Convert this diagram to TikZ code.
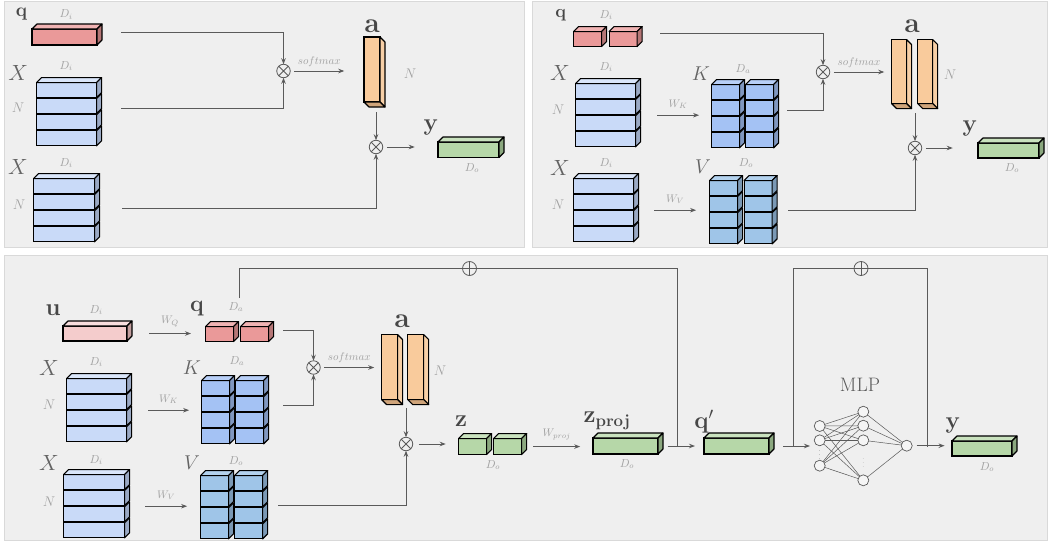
\RequirePackage{fix-cm}
\documentclass[tikz,border=0pt]{standalone}
\usepackage{amsmath, amssymb}
\usepackage{tikz}
\usetikzlibrary{arrows.meta, positioning, calc, matrix}

\definecolor{panelfill}{HTML}{EFEFEF}
\definecolor{paneledge}{HTML}{D9D9D9}
\definecolor{wiregray}{HTML}{5A5A5A}
\definecolor{faint}{HTML}{A0A0A0}
\definecolor{ink}{HTML}{474747}
\definecolor{qfront}{HTML}{EA9999}
\definecolor{qtop}{HTML}{F0B3B3}
\definecolor{qside}{HTML}{B57676}
\definecolor{ufront}{HTML}{F4CCCC}
\definecolor{utop}{HTML}{F8DEDE}
\definecolor{uside}{HTML}{C29E9E}
\definecolor{xfront}{HTML}{C9DAF8}
\definecolor{xtop}{HTML}{DAE6FA}
\definecolor{xside}{HTML}{9AA9C4}
\definecolor{kfront}{HTML}{A4C2F4}
\definecolor{ktop}{HTML}{B8CFF7}
\definecolor{kside}{HTML}{8097C0}
\definecolor{vfront}{HTML}{9FC5E8}
\definecolor{vtop}{HTML}{B3D2EE}
\definecolor{vside}{HTML}{7B99B5}
\definecolor{afront}{HTML}{F9CB9C}
\definecolor{aside}{HTML}{F7CFA6}
\definecolor{abot}{HTML}{CFA47A}
\definecolor{gfront}{HTML}{B6D7A8}
\definecolor{gtop}{HTML}{C9E2BE}
\definecolor{gside}{HTML}{8BA87F}

% top and right faces of a box seen from above
\newcommand{\upfaces}[3]{%
  \filldraw[fill=#2, boxline] (#1.north west) -- ++(5,-5) -- ([shift={(5,-5)}]#1.north east) -- (#1.north east) -- cycle;
  \filldraw[fill=#3, boxline] (#1.north east) -- ++(5,-5) -- ([shift={(5,-5)}]#1.south east) -- (#1.south east) -- cycle;}
% right face only (lower rows of a stack)
\newcommand{\sidefaces}[2]{%
  \filldraw[fill=#2, boxline] (#1.north east) -- ++(5,-5) -- ([shift={(5,-5)}]#1.south east) -- (#1.south east) -- cycle;}
% right and bottom faces of a box seen from below
\newcommand{\downfaces}[3]{%
  \filldraw[fill=#2, boxline] (#1.north east) -- ++(5,5) -- ([shift={(5,5)}]#1.south east) -- (#1.south east) -- cycle;
  \filldraw[fill=#3, boxline] (#1.south west) -- ++(5,5) -- ([shift={(5,5)}]#1.south east) -- (#1.south east) -- cycle;}

\begin{document}
\begin{tikzpicture}[x=1pt, y=-1pt,
    panel/.style={fill=panelfill, draw=paneledge, line width=1pt},
    blk/.style={draw=black, line width=1.1pt, inner sep=0pt, outer sep=0pt},
    boxline/.style={draw=black, line width=1.1pt, line join=round},
    stack/.style={matrix of nodes, nodes in empty cells, anchor=north west,
        inner sep=0pt, outer sep=0pt, row sep=0pt, column sep=5pt, ampersand replacement=\&},
    wire/.style={draw=wiregray, line width=0.9pt},
    arr/.style={wire, -{Stealth[length=6pt, width=4.5pt]}},
    timesop/.style={circle, draw=wiregray, fill=panelfill, line width=0.8pt, minimum size=13.5pt,
        inner sep=0pt, outer sep=0pt,
        path picture={\draw[wiregray, line width=0.8pt]
            (path picture bounding box.north west) -- (path picture bounding box.south east)
            (path picture bounding box.north east) -- (path picture bounding box.south west);}},
    plusop/.style={circle, draw=wiregray, fill=panelfill, line width=0.8pt, minimum size=14pt,
        inner sep=0pt, outer sep=0pt,
        path picture={\draw[wiregray, line width=0.8pt]
            (path picture bounding box.north) -- (path picture bounding box.south)
            (path picture bounding box.west) -- (path picture bounding box.east);}},
    neuron/.style={circle, draw=wiregray, fill=panelfill!60!white, line width=0.7pt, minimum size=11pt, inner sep=0pt},
    edge/.style={draw=wiregray, line width=0.5pt},
    vec/.style={text=ink, inner sep=0pt, font=\fontsize{24}{26}\selectfont},
    mat/.style={text=ink!85, inner sep=0pt, font=\fontsize{22}{24}\selectfont},
    dimlbl/.style={text=faint, inner sep=0pt, font=\fontsize{11.5}{12}\selectfont},
    nlbl/.style={text=faint, inner sep=0pt, font=\fontsize{14}{15}\selectfont},
    oplbl/.style={text=faint, inner sep=0pt, font=\fontsize{11}{12}\selectfont}]

    \useasboundingbox (0,0) rectangle (1048,541);

    % three grey panels
    \draw[panel] (4,1) rectangle (524,247);
    \draw[panel] (532,1) rectangle (1047.5,247);
    \draw[panel] (4,255) rectangle (1047.5,540.5);

    %%% top left: attention without projections
    \node[blk, fill=qfront, minimum width=65pt, minimum height=16pt, anchor=north west] (q1) at (32,29) {};
    \upfaces{q1}{qtop}{qside}
    \matrix[stack, nodes={blk, fill=xfront, minimum width=60pt, minimum height=15pt}] (X1) at (36,82) {\\ \\ \\ \\};
    \upfaces{X1-1-1}{xtop}{xside}
    \foreach \r in {2,3,4} {\sidefaces{X1-\r-1}{xside}}
    \matrix[stack, nodes={blk, fill=xfront, minimum width=61pt, minimum height=15pt}] (X2) at (33,178) {\\ \\ \\ \\};
    \upfaces{X2-1-1}{xtop}{xside}
    \foreach \r in {2,3,4} {\sidefaces{X2-\r-1}{xside}}
    \node[blk, fill=afront, minimum width=16pt, minimum height=65pt, anchor=north west] (a1) at (364,37) {};
    \downfaces{a1}{aside}{abot}
    \node[blk, fill=gfront, minimum width=61pt, minimum height=15.5pt, anchor=north west] (y1) at (438,142) {};
    \upfaces{y1}{gtop}{gside}

    \node[vec, font=\fontsize{19}{21}\selectfont] (lq1) at (21.5,14.5) {$\mathbf{q}$};
    \node[dimlbl] (ld1) at (66,14.5) {$D_i$};
    \node[mat] (lX1) at (18.3,72.5) {$X$};
    \node[dimlbl] (ld2) at (66,66) {$D_i$};
    \node[nlbl] (lN1) at (18,108) {$N$};
    \node[mat] (lX2) at (18,167) {$X$};
    \node[dimlbl] (ld3) at (66,163) {$D_i$};
    \node[nlbl] (lN2) at (19,205) {$N$};
    \node[vec, font=\fontsize{28}{30}\selectfont] (la1) at (372,26) {$\mathbf{a}$};
    \node[nlbl] (lN3) at (410,74) {$N$};
    \node[vec] (ly1) at (431,127) {$\mathbf{y}$};
    \node[dimlbl] (ldo1) at (472,168) {$D_o$};

    \node[timesop] (m1) at (283.5,71) {};
    \node[timesop] (m2) at (376,147) {};
    \coordinate (c1) at (121,32);
    \coordinate (c2) at (121,108);
    \coordinate (c3) at (122,208);
    \coordinate (c4) at (376,112);
    \draw[arr] (c1) -| (m1.north);
    \draw[arr] (c2) -| (m1.south);
    \draw[arr] ([xshift=4pt]m1.east) -- +(50,0) node[oplbl, midway, above=4pt] (sm1) {$softmax$};
    \draw[arr] (c4) -- (m2.north);
    \draw[arr] (c3) -| (m2.south);
    \draw[arr] ([xshift=4pt]m2.east) -- +(28,0);

    %%% top right: attention with key and value projections
    \matrix[stack, column sep=6.5pt, nodes={blk, fill=qfront, minimum width=28pt, minimum height=15pt}] (q2) at (573,31) {\& \\};
    \foreach \c in {1,2} {\upfaces{q2-1-\c}{qtop}{qside}}
    \matrix[stack, nodes={blk, fill=xfront, minimum width=60pt, minimum height=15pt}] (X3) at (575,83) {\\ \\ \\ \\};
    \upfaces{X3-1-1}{xtop}{xside}
    \foreach \r in {2,3,4} {\sidefaces{X3-\r-1}{xside}}
    \matrix[stack, nodes={blk, fill=xfront, minimum width=60pt, minimum height=15pt}] (X4) at (573,178) {\\ \\ \\ \\};
    \upfaces{X4-1-1}{xtop}{xside}
    \foreach \r in {2,3,4} {\sidefaces{X4-\r-1}{xside}}
    \matrix[stack, nodes={blk, fill=kfront, minimum width=28pt, minimum height=15pt}] (K1) at (711,84) {\& \\ \& \\ \& \\ \& \\};
    \foreach \c in {1,2} {\upfaces{K1-1-\c}{ktop}{kside} \foreach \r in {2,3,4} {\sidefaces{K1-\r-\c}{kside}}}
    \matrix[stack, column sep=5.5pt, nodes={blk, fill=vfront, minimum width=28pt, minimum height=15pt}] (V1) at (709,180) {\& \\ \& \\ \& \\ \& \\};
    \foreach \c in {1,2} {\upfaces{V1-1-\c}{vtop}{vside} \foreach \r in {2,3,4} {\sidefaces{V1-\r-\c}{vside}}}
    \matrix[stack, column sep=10pt, nodes={blk, fill=afront, minimum width=15pt, minimum height=64pt}] (a2) at (891,39) {\& \\};
    \foreach \c in {1,2} {\downfaces{a2-1-\c}{aside}{abot}}
    \node[blk, fill=gfront, minimum width=61pt, minimum height=15pt, anchor=north west] (y2) at (978,143) {};
    \upfaces{y2}{gtop}{gside}

    \node[vec, font=\fontsize{18}{20}\selectfont] (lq2) at (560.7,15) {$\mathbf{q}$};
    \node[dimlbl] (ld4) at (606,15) {$D_i$};
    \node[mat] (lX3) at (560,73) {$X$};
    \node[dimlbl] (ld5) at (606,67) {$D_i$};
    \node[nlbl] (lN4) at (558,110) {$N$};
    \node[mat, font=\fontsize{20}{22}\selectfont] (lK1) at (701,74) {$K$};
    \node[dimlbl] (lda1) at (743,69) {$D_a$};
    \node[mat] (lX4) at (560,168) {$X$};
    \node[dimlbl] (ld6) at (606,163) {$D_i$};
    \node[nlbl] (lN5) at (558,205) {$N$};
    \node[mat, font=\fontsize{20}{22}\selectfont] (lV1) at (703,167) {$V$};
    \node[dimlbl] (ldo2) at (746,163) {$D_o$};
    \node[vec, font=\fontsize{28}{30}\selectfont] (la2) at (912,26) {$\mathbf{a}$};
    \node[nlbl] (lN6) at (950,75) {$N$};
    \node[vec] (ly2) at (970,128) {$\mathbf{y}$};
    \node[dimlbl] (ldo3) at (1012,168) {$D_o$};

    \node[timesop] (m3) at (823,72) {};
    \node[timesop] (m4) at (915,148) {};
    \coordinate (c5) at (660,33);
    \coordinate (c6) at (787,110);
    \coordinate (c7) at (788,210);
    \coordinate (c8) at (915,113);
    \draw[arr] ([xshift=21pt]X3.east) -- +(42,0) node[oplbl, midway, above=6pt] (wk1) {$W_K$};
    \draw[arr] ([xshift=20pt]X4.east) -- +(42,0) node[oplbl, midway, above=6pt] (wv1) {$W_V$};
    \draw[arr] (c5) -| (m3.north);
    \draw[arr] (c6) -| (m3.south);
    \draw[arr] ([xshift=4pt]m3.east) -- +(50.5,0) node[oplbl, midway, above=4pt] (sm2) {$softmax$};
    \draw[arr] (c8) -- (m4.north);
    \draw[arr] (c7) -| (m4.south);
    \draw[arr] ([xshift=4pt]m4.east) -- +(27,0);

    %%% bottom: full block with query projection, residuals and MLP
    \node[blk, fill=ufront, minimum width=64pt, minimum height=15pt, anchor=north west] (u1) at (63,326) {};
    \upfaces{u1}{utop}{uside}
    \matrix[stack, column sep=6pt, nodes={blk, fill=qfront, minimum width=28pt, minimum height=15pt}] (q3) at (205,326) {\& \\};
    \foreach \c in {1,2} {\upfaces{q3-1-\c}{qtop}{qside}}
    \matrix[stack, nodes={blk, fill=xfront, minimum width=60pt, minimum height=15pt}] (X5) at (66,378) {\\ \\ \\ \\};
    \upfaces{X5-1-1}{xtop}{xside}
    \foreach \r in {2,3,4} {\sidefaces{X5-\r-1}{xside}}
    \matrix[stack, nodes={blk, fill=xfront, minimum width=61pt, minimum height=15pt}] (X6) at (63,474) {\\ \\ \\ \\};
    \upfaces{X6-1-1}{xtop}{xside}
    \foreach \r in {2,3,4} {\sidefaces{X6-\r-1}{xside}}
    \matrix[stack, nodes={blk, fill=kfront, minimum width=28pt, minimum height=15pt}] (K2) at (201,380) {\& \\ \& \\ \& \\ \& \\};
    \foreach \c in {1,2} {\upfaces{K2-1-\c}{ktop}{kside} \foreach \r in {2,3,4} {\sidefaces{K2-\r-\c}{kside}}}
    \matrix[stack, nodes={blk, fill=vfront, minimum width=28pt, minimum height=15pt}] (V2) at (200,475) {\& \\ \& \\ \& \\ \& \\};
    \foreach \c in {1,2} {\upfaces{V2-1-\c}{vtop}{vside} \foreach \r in {2,3,4} {\sidefaces{V2-\r-\c}{vside}}}
    \matrix[stack, column sep=9pt, nodes={blk, fill=afront, minimum width=16pt, minimum height=65pt}] (a3) at (381,334) {\& \\};
    \foreach \c in {1,2} {\downfaces{a3-1-\c}{aside}{abot}}
    \matrix[stack, column sep=6pt, nodes={blk, fill=gfront, minimum width=28pt, minimum height=16pt}] (z1) at (458,438) {\& \\};
    \foreach \c in {1,2} {\upfaces{z1-1-\c}{gtop}{gside}}
    \node[blk, fill=gfront, minimum width=65pt, minimum height=16pt, anchor=north west] (zp) at (593,438) {};
    \upfaces{zp}{gtop}{gside}
    \node[blk, fill=gfront, minimum width=65pt, minimum height=16pt, anchor=north west] (qp) at (704,438) {};
    \upfaces{qp}{gtop}{gside}
    \node[blk, fill=gfront, minimum width=60pt, minimum height=15pt, anchor=north west] (y3) at (952,441) {};
    \upfaces{y3}{gtop}{gside}

    \node[vec] (lu) at (53,310) {$\mathbf{u}$};
    \node[dimlbl] (ld7) at (96,310) {$D_i$};
    \node[vec, font=\fontsize{23}{25}\selectfont] (lq3) at (197,309) {$\mathbf{q}$};
    \node[dimlbl] (lda2) at (236,307) {$D_a$};
    \node[mat] (lX5) at (49,368) {$X$};
    \node[dimlbl] (ld8) at (96,362) {$D_i$};
    \node[nlbl] (lN7) at (49,405) {$N$};
    \node[mat, font=\fontsize{20}{22}\selectfont] (lK2) at (192,368) {$K$};
    \node[dimlbl] (lda3) at (237,361) {$D_a$};
    \node[mat] (lX6) at (49,463) {$X$};
    \node[dimlbl] (ld9) at (96,460) {$D_i$};
    \node[nlbl] (lN8) at (49,502) {$N$};
    \node[mat, font=\fontsize{20}{22}\selectfont] (lV2) at (192,463) {$V$};
    \node[dimlbl] (ldo4) at (236,461) {$D_o$};
    \node[vec, font=\fontsize{28}{30}\selectfont] (la3) at (402,321) {$\mathbf{a}$};
    \node[nlbl] (lN9) at (440,371) {$N$};
    \node[vec] (lz) at (461,421) {$\mathbf{z}$};
    \node[dimlbl] (ldo5) at (493,465) {$D_o$};
    \node[vec] (lzp) at (607,421) {$\mathbf{z}_{\mathbf{proj}}$};
    \node[dimlbl] (ldo6) at (627,464) {$D_o$};
    \node[vec] (lqp) at (704,422) {$\mathbf{q}'$};
    \node[text=ink!90, font=\fontsize{19.5}{21}\selectfont, inner sep=0pt] (lmlp) at (860,385) {MLP};
    \node[vec] (ly3) at (953,425.5) {$\mathbf{y}$};
    \node[dimlbl] (ldo7) at (987,467) {$D_o$};

    \node[timesop] (m5) at (313.5,367.5) {};
    \node[timesop] (m6) at (406,444) {};
    \node[plusop] (p1) at (469.5,268.5) {};
    \node[plusop] (p2) at (861,268.5) {};

    % small MLP
    \coordinate (i1) at (819.7,426);
    \coordinate (i2) at (819.7,440.3);
    \coordinate (i3) at (819.7,465.7);
    \coordinate (h1) at (863.3,411.7);
    \coordinate (h2) at (863.3,425.7);
    \coordinate (h3) at (863.3,440.3);
    \coordinate (h4) at (863.3,480.3);
    \foreach \i in {i1,i2,i3} {\foreach \h in {h1,h2,h3,h4} {\draw[edge] (\i) -- (\h);}}
    \foreach \h in {h1,h2,h3,h4} {\draw[edge] (\h) -- (906.7,445.7);}
    \foreach \n in {i1,i2,i3,h1,h2,h3,h4} {\node[neuron] (\n-u) at (\n) {};}
    \node[neuron] (o1) at (906.7,445.7) {};
    \node[text=ink, font=\fontsize{6}{6}\selectfont, inner sep=0pt] (idots) at (819.7,452.5) {$\vdots$};
    \node[text=ink, font=\fontsize{4.5}{5}\selectfont, inner sep=0pt] (hdots) at (863.3,460) {$\vdots$};

    \coordinate (c19) at (283,330);
    \coordinate (c20) at (283,405);
    \coordinate (c21) at (278,505);
    \coordinate (c22) at (406,408);
    \coordinate (c26) at (239.3,298);
    \coordinate (c27) at (677.7,446);
    \coordinate (c28) at (793.3,446);
    \coordinate (c29) at (927.3,447);
    \draw[arr] ([xshift=22pt]u1.east) -- +(42,0) node[oplbl, midway, above=6pt] (wq2) {$W_Q$};
    \draw[arr] ([xshift=21pt]X5.east) -- +(41,0) node[oplbl, midway, above=6pt] (wk2) {$W_K$};
    \draw[arr] ([xshift=20pt]X6.east) -- +(42,0) node[oplbl, midway, above=6pt] (wv2) {$W_V$};
    \draw[arr] (c19) -| (m5.north);
    \draw[arr] (c20) -| (m5.south);
    \draw[arr] ([xshift=4pt]m5.east) -- +(50,0) node[oplbl, midway, above=4pt] (sm3) {$softmax$};
    \draw[arr] (c22) -- (m6.north);
    \draw[arr] (c21) -| (m6.south);
    \draw[arr] ([xshift=6pt]m6.east) -- +(27,0);
    \draw[arr] ([xshift=11pt]z1.east) -- +(47,0) node[oplbl, midway, above=6pt] (wp) {$W_{proj}$};
    \draw[arr] ([xshift=9.5pt]zp.east) -- ([xshift=-9pt]qp.west);
    \draw[arr] ([xshift=14pt]qp.east) -- +(27,0);
    \draw[arr] ([xshift=4pt]o1.east) -- +(28,0);

    % residual connections
    \draw[wire] (c26) |- (p1.west);
    \draw[wire] (p1.east) -| (c27);
    \draw[wire] (c28) |- (p2.west);
    \draw[wire] (p2.east) -| (c29);
\end{tikzpicture}
\end{document}
